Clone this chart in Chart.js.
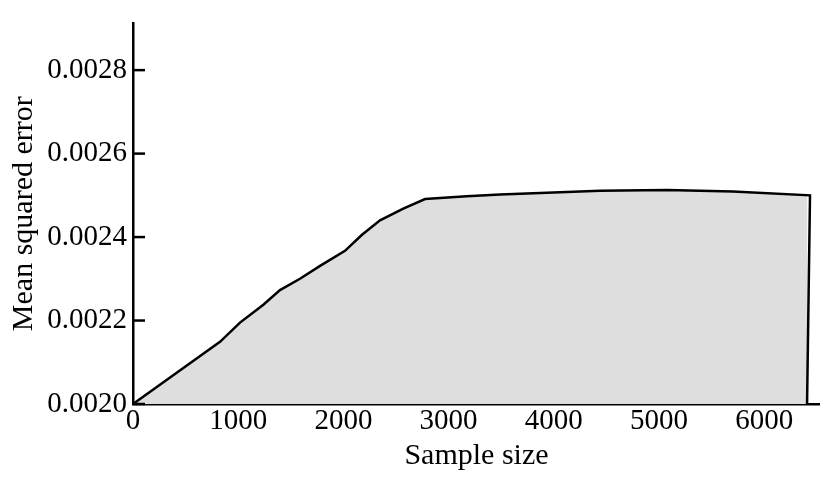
<!DOCTYPE html>
<html>
<head>
<meta charset="utf-8">
<script src="https://cdn.jsdelivr.net/npm/chart.js@4.4.0/dist/chart.umd.min.js"></script>
<style>
  html, body { margin: 0; padding: 0; background: #ffffff; }
  #wrap { width: 820px; height: 480px; position: relative; }
</style>
</head>
<body>
<div id="wrap"><canvas id="chart_1"></canvas></div>
<script>
// values
const sampleSize = [0, 827, 1017, 1239, 1397, 1587, 1778, 2015, 2174, 2348, 2569, 2776, 3172, 3489, 4439, 5073, 5703, 6435, 6407];
const mse = [0.002, 0.002149, 0.002195, 0.002238, 0.002273, 0.0023, 0.002331, 0.002367, 0.002405, 0.00244, 0.002468, 0.002491, 0.002498, 0.002502, 0.002511, 0.002513, 0.002509, 0.0025, 0.002];
const xTicks = [0, 1000, 2000, 3000, 4000, 5000, 6000];
const yTicks = [0.002, 0.0022, 0.0024, 0.0026, 0.0028];

const serifFamily = "'Liberation Serif', 'DejaVu Serif', serif";
const tickFont = { family: serifFamily, size: 29 };
const titleFont = { family: serifFamily, size: 30 };

// y ticks point inward, into the plot
const innerTicks = {
  id: "innerTicks",
  afterDraw(chart) {
    const ctx = chart.ctx;
    const y = chart.scales.y;
    ctx.save();
    ctx.strokeStyle = "#000000";
    ctx.lineWidth = 2.5;
    y.ticks.forEach(function (t) {
      const py = y.getPixelForValue(t.value);
      ctx.beginPath();
      ctx.moveTo(chart.chartArea.left, py);
      ctx.lineTo(chart.chartArea.left + 12, py);
      ctx.stroke();
    });
    ctx.restore();
  },
};

const ctx1 = document.getElementById("chart_1").getContext("2d");
var myChart1 = new Chart(ctx1, {
  type: "line",
  data: {
    datasets: [
      {
        data: sampleSize.map((x, i) => ({ x: x, y: mse[i] })),
        fill: "start",
        backgroundColor: "#dedede",
        borderColor: "#000000",
        borderWidth: 2.5,
        tension: 0,
        pointRadius: 0,
        clip: false,
      },
    ],
  },
  options: {
    responsive: true,
    maintainAspectRatio: false,
    animation: false,
    layout: { padding: { top: 12, right: 0, left: 0, bottom: 0 } },
    plugins: {
      legend: { display: false },
      tooltip: { enabled: false },
    },
    scales: {
      x: {
        type: "linear",
        min: 0,
        max: 6530,
        afterBuildTicks: function (scale) {
          scale.ticks = xTicks.map((v) => ({ value: v }));
        },
        afterFit: function (scale) {
          scale.height = 76;
        },
        ticks: {
          color: "#000000",
          font: tickFont,
          padding: 0,
          maxRotation: 0,
          autoSkip: false,
          callback: function (value) {
            return String(value);
          },
        },
        grid: { drawOnChartArea: false, drawTicks: false },
        border: { color: "#000000", width: 2.5 },
        title: {
          display: true,
          text: "Sample size",
          color: "#000000",
          font: titleFont,
          padding: { top: 0, bottom: 6 },
        },
      },
      y: {
        min: 0.002,
        max: 0.002912,
        afterBuildTicks: function (scale) {
          scale.ticks = yTicks.map((v) => ({ value: v }));
        },
        afterFit: function (scale) {
          scale.width = 133;
        },
        ticks: {
          color: "#000000",
          font: tickFont,
          padding: 6,
          callback: function (value) {
            return value.toFixed(4);
          },
        },
        grid: { drawOnChartArea: false, drawTicks: false },
        border: { color: "#000000", width: 2.5 },
        title: {
          display: true,
          text: "Mean squared error",
          color: "#000000",
          font: titleFont,
          padding: { top: 6, bottom: 0 },
        },
      },
    },
  },
  plugins: [innerTicks],
});
</script>
</body>
</html>
